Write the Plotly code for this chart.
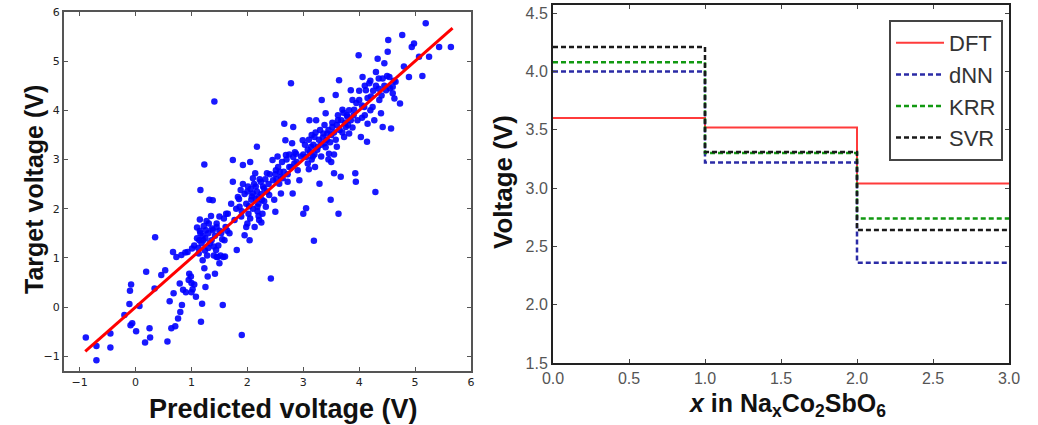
import plotly.graph_objects as go

# ---------------- Left panel: predicted vs target voltage ----------------
pred_v = [
    -0.89, -0.70, -0.70, -0.45, -0.45, -0.20, -0.10, -0.08, -0.11, -0.06, -0.09, 0.01, 0.07, 0.17, 0.19,
    0.25, 0.26, 0.34, 0.35, 0.46, 0.53, 0.57, 0.61, 0.64, 0.68, 0.71, 0.76, 0.79, 0.83, 0.67, 0.73, 0.82,
    0.89, 0.93, 1.01, 0.96, 0.99, 1.00, 1.02, 1.05, 1.08, 1.13, 1.14, 1.16, 1.17, 1.19, 1.23, 1.23, 1.25,
    1.29, 1.31, 1.32, 1.26, 1.21, 1.16, 1.38, 1.41, 1.42, 1.50, 1.47, 1.44, 1.40, 1.36, 1.38, 1.45, 1.50,
    1.56, 1.57, 1.53, 1.59, 1.61, 1.65, 1.68, 1.71, 1.74, 1.74, 1.77, 1.81, 1.83, 1.86, 1.89, 1.90, 1.92,
    1.95, 1.98, 2.01, 2.02, 2.04, 2.05, 2.07, 2.10, 2.13, 2.14, 2.15, 2.17, 2.18, 2.20, 2.21, 2.24, 2.26,
    2.27, 2.30, 2.33, 2.35, 2.39, 2.42, 2.45, 2.46, 2.48, 2.50, 2.51, 2.54, 2.57, 2.60, 2.63, 2.66, 2.68,
    2.69, 2.72, 2.75, 2.78, 2.80, 2.81, 2.82, 2.84, 2.87, 2.90, 2.93, 2.96, 2.99, 3.00, 3.05, 3.08, 3.11,
    3.14, 3.17, 3.19, 3.20, 3.21, 3.23, 3.26, 3.29, 3.32, 3.33, 3.36, 3.38, 3.40, 3.43, 3.46, 3.49, 3.52,
    3.55, 3.58, 3.60, 3.62, 3.63, 3.64, 3.67, 3.70, 3.73, 3.76, 3.79, 3.82, 3.85, 3.88, 3.91, 3.93, 3.94,
    3.97, 3.99, 4.00, 4.03, 4.06, 4.09, 4.12, 4.14, 4.15, 4.18, 4.21, 4.24, 4.27, 4.29, 4.30, 4.33, 4.35,
    4.36, 4.39, 4.42, 4.42, 4.45, 4.48, 4.51, 4.52, 4.54, 4.57, 4.60, 4.63, 4.65, 4.73, 4.77, 4.80, 4.89,
    4.94, 4.98, 5.07, 5.13, 5.19, 5.25, 5.43, 5.64,
    1.05, 1.10, 1.12, 1.15, 1.18, 1.20, 1.22, 1.24, 1.27, 1.30, 1.33, 1.35, 1.37, 1.40, 1.42, 1.45, 1.48,
    1.50, 1.52, 1.55, 1.58, 1.60, 1.62, 1.64, 1.30, 1.25, 1.15, 1.10, 1.28, 1.45,
    1.80, 1.85, 1.90, 1.95, 1.98, 2.00, 2.03, 2.06, 2.08, 2.10, 2.12, 2.15, 2.17, 2.20, 2.22, 2.25, 2.28,
    2.30, 2.32, 2.35, 2.38, 2.40, 2.20, 2.25, 2.18, 1.92, 2.00, 2.05, 1.88, 2.10,
    2.50, 2.55, 2.60, 2.62, 2.65, 2.70, 2.72, 2.75, 2.78, 2.82, 2.85, 2.88, 2.52, 2.58,
    3.00, 3.03, 3.05, 3.08, 3.10, 3.12, 3.15, 3.18, 3.20, 3.22, 3.25, 3.28, 3.30, 3.32, 3.35, 3.38, 3.40,
    3.42, 3.45, 3.48, 3.50, 3.52, 3.55, 3.58, 3.60, 3.62, 3.65, 3.68, 3.70, 3.72, 3.75, 3.78, 3.80, 3.82,
    3.85, 3.88, 3.90, 3.45, 3.50, 3.55, 3.10, 3.15,
    4.00, 4.05, 4.10, 4.15, 4.20, 4.25, 4.30, 4.35, 4.40, 4.45, 4.50, 4.55, 4.60, 4.62, 4.10, 4.20, 3.95,
    4.05,
    0.85, 0.90, 0.95, 1.00, 0.80, 1.20,
]
target_v = [
    -0.62, -0.79, -1.08, -0.54, -0.82, -0.16, 0.33, 0.46, 0.06, -0.33, -0.37, -0.49, 0.02, -0.72, 0.72,
    -0.43, -0.62, 0.38, 1.42, 0.65, 0.75, -0.70, 0.12, -0.43, 0.28, -0.39, -0.23, 0.48, 0.04, 1.12, 1.02, 1.06,
    1.11, 1.12, 1.19, 0.68, 0.62, 0.49, 0.36, 0.46, 0.21, 1.09, 1.36, 2.38, -0.30, 0.07, 2.90, 0.79, 0.41,
    0.62, 1.70, 2.18, 1.56, 1.36, 1.50, 2.17, 4.18, 0.68, 0.89, 1.02, 1.16, 1.23, 1.36, 1.56, 1.63, 1.84,
    0.04, 1.02, 1.50, 1.36, 1.63, 1.90, 1.50, 2.10, 2.99, 2.55, 1.77, 1.16, 2.24, 2.04, 1.84, -0.57, 2.89,
    1.46, 1.63, 2.45, 1.90, 1.36, 2.95, 2.18, 2.31, 1.63, 2.72, 2.45, 3.26, 2.04, 2.24, 1.77, 2.55, 2.18,
    1.90, 2.41, 2.04, 2.72, 2.28, 0.58, 2.99, 2.58, 2.18, 1.94, 2.78, 3.06, 2.51, 2.31, 2.62, 3.73, 3.39,
    3.09, 2.55, 2.85, 4.55, 3.33, 2.31, 3.66, 2.92, 3.12, 2.78, 2.58, 3.06, 3.39, 1.90, 2.01, 2.92, 3.80,
    3.26, 3.06, 1.35, 3.46, 2.85, 3.80, 3.26, 2.51, 3.06, 4.21, 3.53, 3.33, 3.94, 3.53, 3.12, 2.18, 3.66,
    2.72, 4.31, 3.26, 3.80, 1.90, 4.61, 2.65, 4.01, 3.46, 3.66, 3.87, 3.53, 4.41, 4.21, 4.01, 2.72, 2.55,
    3.80, 5.12, 4.21, 3.46, 4.68, 4.07, 4.41, 3.36, 3.73, 4.55, 4.28, 4.07, 3.80, 2.34, 4.78, 5.05, 4.44,
    4.21, 3.94, 3.66, 4.65, 4.96, 4.41, 5.19, 5.43, 4.68, 3.63, 4.48, 4.24, 4.58, 4.14, 5.53, 4.89, 4.68,
    5.29, 5.36, 5.09, 4.70, 5.77, 5.09, 5.29, 5.29,
    1.25, 1.40, 1.20, 1.55, 1.30, 1.45, 1.65, 1.15, 1.75, 1.50, 1.30, 1.85, 1.60, 1.05, 1.45, 1.70, 1.25,
    1.55, 1.05, 1.38, 1.80, 1.03, 1.90, 1.55, 1.20, 1.40, 1.78, 1.62, 1.05, 1.02,
    2.00, 2.20, 1.95, 2.30, 2.10, 2.35, 2.05, 2.40, 2.25, 2.00, 2.50, 2.20, 2.35, 2.10, 2.60, 2.30, 2.45,
    2.15, 2.60, 2.35, 2.50, 2.70, 1.85, 1.72, 1.95, 2.50, 1.70, 1.80, 2.38, 2.62,
    2.70, 2.85, 2.65, 2.95, 2.75, 3.00, 2.70, 3.10, 2.85, 3.05, 3.15, 2.95, 2.60, 2.75,
    3.10, 3.30, 3.05, 3.20, 3.40, 3.15, 3.00, 3.30, 3.10, 3.55, 3.20, 3.40, 3.60, 3.30, 3.45, 3.70, 3.25,
    3.40, 3.60, 3.35, 3.50, 3.75, 3.55, 3.40, 3.70, 3.90, 3.60, 3.80, 3.55, 3.95, 3.75, 3.90, 3.70, 4.00,
    3.80, 3.65, 3.90, 3.00, 2.95, 3.10, 2.80, 3.50,
    4.40, 4.10, 4.50, 4.25, 4.60, 4.40, 4.50, 4.65, 4.30, 4.50, 4.70, 4.45, 4.35, 4.60, 3.90, 4.00, 4.15,
    3.85,
    0.35, 0.30, 0.55, 0.30, -0.10, 0.95,
]
fit_x = [-0.90, 5.67]
fit_y = [-0.90, 5.67]

# ---------------- Right panel: voltage profile ----------------
x_steps = [0.0, 1.0, 2.0, 3.0]
dft = [3.60, 3.52, 3.04]
dnn = [4.00, 3.22, 2.36]
krr = [4.08, 3.30, 2.74]
svr = [4.21, 3.31, 2.64]

fig = go.Figure()

fig.add_trace(go.Scatter(
    x=pred_v, y=target_v, mode="markers",
    marker=dict(color="#0000ff", size=6.5, opacity=0.9, line=dict(width=0)),
    xaxis="x", yaxis="y", showlegend=False))
fig.add_trace(go.Scatter(
    x=fit_x, y=fit_y, mode="lines", line=dict(color="#ff0000", width=3),
    xaxis="x", yaxis="y", showlegend=False))

series = [
    ("DFT", dft, "#ff3b3b", "solid", 2),
    ("dNN", dnn, "#2b2ba6", "5px,3px", 2.5),
    ("KRR", krr, "#119911", "5px,3px", 2.5),
    ("SVR", svr, "#1a1a1a", "5px,3px", 2.5),
]
for name, vals, col, dash, w in series:
    fig.add_trace(go.Scatter(
        x=x_steps, y=vals + [vals[-1]], mode="lines", name=name,
        line=dict(color=col, dash=dash, width=w, shape="hv"),
        xaxis="x2", yaxis="y2"))

W, H = 1038, 425
def px_x(p):
    return p / W
def px_y(p):
    return 1 - p / H

frame = dict(showline=True, mirror="allticks", ticks="inside", showgrid=False,
             zeroline=False, automargin=False)

def title_ann(text, x, y, size, angle=0):
    return dict(text=text, x=px_x(x), y=px_y(y), xref="paper", yref="paper",
                xanchor="center", yanchor="middle", showarrow=False, textangle=angle,
                font=dict(size=size, color="#111"))

fig.update_layout(
    width=W, height=H,
    margin=dict(l=0, r=0, t=0, b=0),
    paper_bgcolor="white", plot_bgcolor="white",
    font=dict(family="Liberation Sans, Arial, sans-serif"),
    xaxis=dict(domain=[px_x(64), px_x(471)], range=[-1.28, 6.0], tickvals=[-1, 0, 1, 2, 3, 4, 5, 6],
               linecolor="#555", linewidth=2, ticklen=4, tickcolor="#555",
               tickfont=dict(size=11, color="#222", family="DejaVu Sans"), anchor="y", **frame),
    yaxis=dict(domain=[px_y(371), px_y(12)], range=[-1.3, 6.0], tickvals=[-1, 0, 1, 2, 3, 4, 5, 6],
               linecolor="#555", linewidth=2, ticklen=4, tickcolor="#555",
               tickfont=dict(size=11, color="#222", family="DejaVu Sans"), anchor="x", **frame),
    xaxis2=dict(domain=[px_x(553), px_x(1009)], range=[0, 3.0], tickvals=[0, 0.5, 1, 1.5, 2, 2.5, 3],
                tickformat=".1f", linecolor="#222", linewidth=2, ticklen=4, tickcolor="#444",
                tickfont=dict(size=16, color="#555"), anchor="y2", **frame),
    yaxis2=dict(domain=[px_y(363), px_y(5)], range=[1.5, 4.57],
                tickvals=[1.5, 2.0, 2.5, 3.0, 3.5, 4.0, 4.5], tickformat=".1f",
                linecolor="#222", linewidth=2, ticklen=4, tickcolor="#444",
                tickfont=dict(size=16, color="#555"), anchor="x2", **frame),
    legend=dict(x=px_x(1003), y=px_y(20), xanchor="right", yanchor="top",
                bgcolor="white", bordercolor="#444", borderwidth=2,
                font=dict(size=22, color="#333"), itemwidth=48, tracegroupgap=6),
    annotations=[
        title_ann("<b>Predicted voltage (V)</b>", 283, 409, 27),
        title_ann("<b>Target voltage (V)</b>", 34, 190, 25, -90),
        title_ann("<b><i>x</i> in Na<sub>x</sub>Co<sub>2</sub>SbO<sub>6</sub></b>", 787, 405, 25),
        title_ann("<b>Voltage (V)</b>", 503, 182, 26, -90),
    ],
)

fig.write_html(
    "out.html",
    config=dict(displayModeBar=False),
    post_script="document.body.style.margin='0';document.body.style.padding='0';"
                "document.body.style.overflow='hidden';",
)
